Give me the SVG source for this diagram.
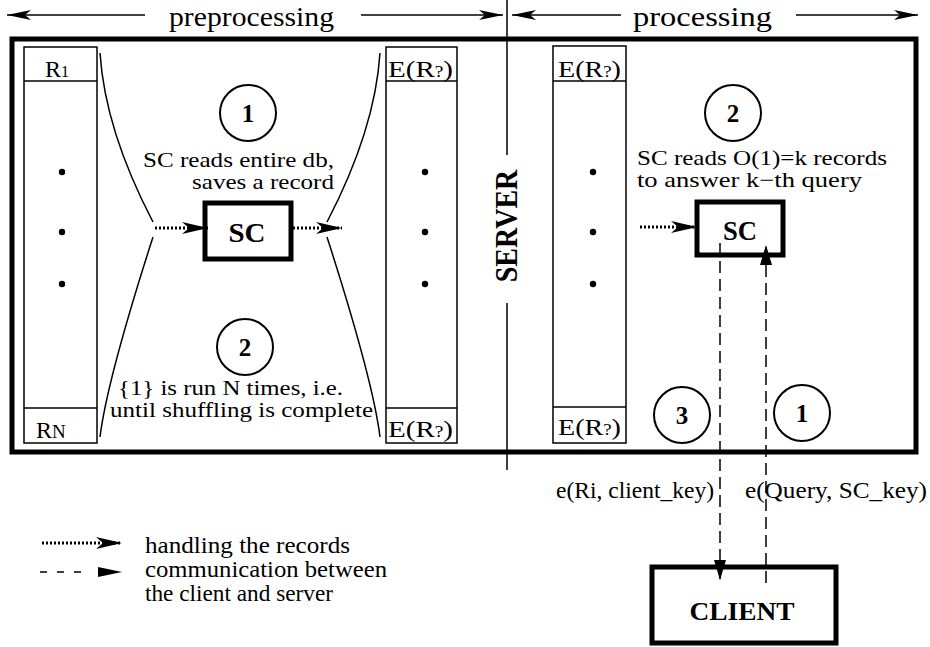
<svg xmlns="http://www.w3.org/2000/svg" width="930" height="647" viewBox="0 0 930 647" font-family="'Liberation Serif','Times New Roman',Times,serif">
<style>
text{font-family:"Liberation Serif","Times New Roman",Times,serif;fill:#000}
.t{font-size:23px}
.s{font-size:21px}
.h{font-size:28px}
.b{font-weight:bold}
.col{fill:none;stroke:#000;stroke-width:1.5}
.thick{fill:none;stroke:#000;stroke-width:5}
.circ{fill:none;stroke:#000;stroke-width:2}
.num{font-size:25px;font-weight:bold;text-anchor:middle}
.curve{fill:none;stroke:#000;stroke-width:1.5}
.line{fill:none;stroke:#000;stroke-width:1.5}
.dotted{stroke:#000;stroke-width:3;stroke-dasharray:2 2;fill:none}
.dashed{stroke:#000;stroke-width:1.5;stroke-dasharray:12 6;fill:none}
</style>
<defs>
<marker id="stealth" markerUnits="userSpaceOnUse" viewBox="0 0 26 12" markerWidth="26" markerHeight="12" refX="26" refY="6" orient="auto">
<path d="M0,0 L26,6 L0,12 L7,6 Z" fill="#000" stroke="none"/>
</marker>
<marker id="thead" markerUnits="userSpaceOnUse" viewBox="0 0 24 10" markerWidth="24" markerHeight="10" refX="24" refY="5" orient="auto">
<path d="M0,0 L24,5 L0,10 L6,5 Z" fill="#000" stroke="none"/>
</marker>
<marker id="tri" markerUnits="userSpaceOnUse" viewBox="0 0 20 12" markerWidth="20" markerHeight="12" refX="20" refY="6" orient="auto">
<path d="M0,0 L20,6 L0,12 Z" fill="#000" stroke="none"/>
</marker>
<marker id="tri2" markerUnits="userSpaceOnUse" viewBox="0 0 24 10" markerWidth="24" markerHeight="10" refX="24" refY="5" orient="auto">
<path d="M0,0 L24,5 L0,10 Z" fill="#000" stroke="none"/>
</marker>
</defs>
<rect width="930" height="647" fill="#fff"/>

<g id="header">
<text class="h" x="169" y="26" textLength="165" lengthAdjust="spacingAndGlyphs">preprocessing</text>
<text class="h" x="633" y="26" textLength="139" lengthAdjust="spacingAndGlyphs">processing</text>
<line class="line" x1="145" y1="15" x2="7" y2="15" marker-end="url(#thead)"/>
<line class="line" x1="361" y1="15" x2="503" y2="15" marker-end="url(#thead)"/>
<line class="line" x1="621" y1="15" x2="512" y2="15" marker-end="url(#thead)"/>
<line class="line" x1="796" y1="15" x2="918" y2="15" marker-end="url(#thead)"/>
</g>

<g id="frame">
<rect class="thick" x="12" y="39" width="904" height="413"/>
</g>

<g id="separator">
<line class="line" x1="507" y1="0" x2="507" y2="155"/>
<line class="line" x1="507" y1="303" x2="507" y2="470"/>
<text class="b" font-size="28" text-anchor="middle" transform="translate(517,226) scale(1.09,1) rotate(-90)">SERVER</text>
</g>

<g id="db-plain">
<rect class="col" x="24" y="47" width="73" height="396"/>
<line class="col" x1="24" y1="81" x2="97" y2="81"/>
<line class="col" x1="24" y1="408" x2="97" y2="408"/>
<text font-size="24" x="45" y="77">R<tspan font-size="16">1</tspan></text>
<text font-size="24" x="36" y="438">R<tspan font-size="19">N</tspan></text>
<circle cx="62" cy="172" r="3.2"/>
<circle cx="62" cy="232" r="3.2"/>
<circle cx="62" cy="284" r="3.2"/>
</g>

<g id="db-enc-left">
<rect class="col" x="386" y="47" width="71" height="396"/>
<line class="col" x1="386" y1="81" x2="457" y2="81"/>
<line class="col" x1="386" y1="408" x2="457" y2="408"/>
<text font-size="24" x="388" y="77" textLength="65" lengthAdjust="spacingAndGlyphs">E(R<tspan font-size="16">?</tspan>)</text>
<text font-size="24" x="388" y="437" textLength="65" lengthAdjust="spacingAndGlyphs">E(R<tspan font-size="16">?</tspan>)</text>
<circle cx="425" cy="172" r="3.2"/>
<circle cx="425" cy="232" r="3.2"/>
<circle cx="425" cy="284" r="3.2"/>
</g>

<g id="db-enc-right">
<rect class="col" x="553" y="46" width="73" height="397"/>
<line class="col" x1="553" y1="81" x2="626" y2="81"/>
<line class="col" x1="553" y1="407" x2="626" y2="407"/>
<text font-size="24" x="558" y="77" textLength="63" lengthAdjust="spacingAndGlyphs">E(R<tspan font-size="16">?</tspan>)</text>
<text font-size="24" x="558" y="435" textLength="63" lengthAdjust="spacingAndGlyphs">E(R<tspan font-size="16">?</tspan>)</text>
<circle cx="593" cy="172" r="3.2"/>
<circle cx="593" cy="232" r="3.2"/>
<circle cx="593" cy="284" r="3.2"/>
</g>

<g id="funnel">
<path class="curve" d="M100,53 Q105,130 153,222"/>
<path class="curve" d="M153,237 Q107,380 100,437"/>
<path class="curve" d="M380,53 Q375,130 327,222"/>
<path class="curve" d="M327,237 Q373,380 380,437"/>
</g>

<g id="step1-pre">
<circle class="circ" cx="248" cy="113" r="28"/>
<text class="num" x="248" y="122">1</text>
<text class="s" x="143" y="167" textLength="191" lengthAdjust="spacingAndGlyphs">SC reads entire db,</text>
<text class="s" x="192" y="189" textLength="142" lengthAdjust="spacingAndGlyphs">saves a record</text>
</g>

<g id="step2-pre">
<circle class="circ" cx="245" cy="347" r="28"/>
<text class="num" x="245" y="356">2</text>
<text class="s" x="118" y="395" textLength="225" lengthAdjust="spacingAndGlyphs">{1} is run N times, i.e.</text>
<text class="s" x="110" y="417" textLength="263" lengthAdjust="spacingAndGlyphs">until shuffling is complete</text>
</g>

<g id="sc-pre">
<rect class="thick" x="205" y="203" width="86" height="56"/>
<text class="b" font-size="27" x="247" y="242" text-anchor="middle" textLength="37" lengthAdjust="spacingAndGlyphs">SC</text>
</g>

<g id="step2-proc">
<circle class="circ" cx="733" cy="113" r="28"/>
<text class="num" x="733" y="122">2</text>
<text class="s" x="637" y="165" textLength="250" lengthAdjust="spacingAndGlyphs">SC reads O(1)=k records</text>
<text class="s" x="637" y="187" textLength="225" lengthAdjust="spacingAndGlyphs">to answer k−th query</text>
</g>

<g id="sc-proc">
<rect class="thick" x="697" y="202" width="86" height="53"/>
<text class="b" font-size="27" x="740" y="240" text-anchor="middle" textLength="34" lengthAdjust="spacingAndGlyphs">SC</text>
</g>

<g id="step3">
<circle class="circ" cx="682" cy="415" r="28"/>
<text class="num" x="682" y="424">3</text>
</g>

<g id="step1-proc">
<circle class="circ" cx="802" cy="413" r="28"/>
<text class="num" x="802" y="422">1</text>
</g>

<g id="client">
<rect class="thick" x="652" y="567" width="184" height="76"/>
<text class="b" font-size="26" x="742" y="620" text-anchor="middle" textLength="105" lengthAdjust="spacingAndGlyphs">CLIENT</text>
</g>

<g id="connectors">
<line class="dotted" x1="155" y1="228" x2="208" y2="228" marker-end="url(#stealth)"/>
<line class="dotted" x1="293" y1="228" x2="342" y2="228" marker-end="url(#stealth)"/>
<line class="dotted" x1="640" y1="227" x2="697" y2="227" marker-end="url(#stealth)"/>
<line class="dashed" x1="720" y1="243" x2="720" y2="580" marker-end="url(#tri)"/>
<line class="dashed" x1="766" y1="583" x2="766" y2="245" marker-end="url(#tri)"/>
<text class="t" x="714" y="498" text-anchor="end" textLength="158" lengthAdjust="spacingAndGlyphs">e(Ri, client_key)</text>
<text class="t" x="745" y="498" textLength="182" lengthAdjust="spacingAndGlyphs">e(Query, SC_key)</text>
</g>

<g id="legend">
<line class="dotted" x1="42" y1="543" x2="122" y2="543" marker-end="url(#stealth)"/>
<text class="t" x="145" y="553" textLength="205" lengthAdjust="spacingAndGlyphs">handling the records</text>
<line class="line" x1="40" y1="572" x2="122" y2="572" stroke-dasharray="7 10 7 10 7 60" marker-end="url(#tri2)"/>
<text class="t" x="145" y="577" textLength="242" lengthAdjust="spacingAndGlyphs">communication between</text>
<text class="t" x="145" y="601" textLength="188" lengthAdjust="spacingAndGlyphs">the client and server</text>
</g>
</svg>
